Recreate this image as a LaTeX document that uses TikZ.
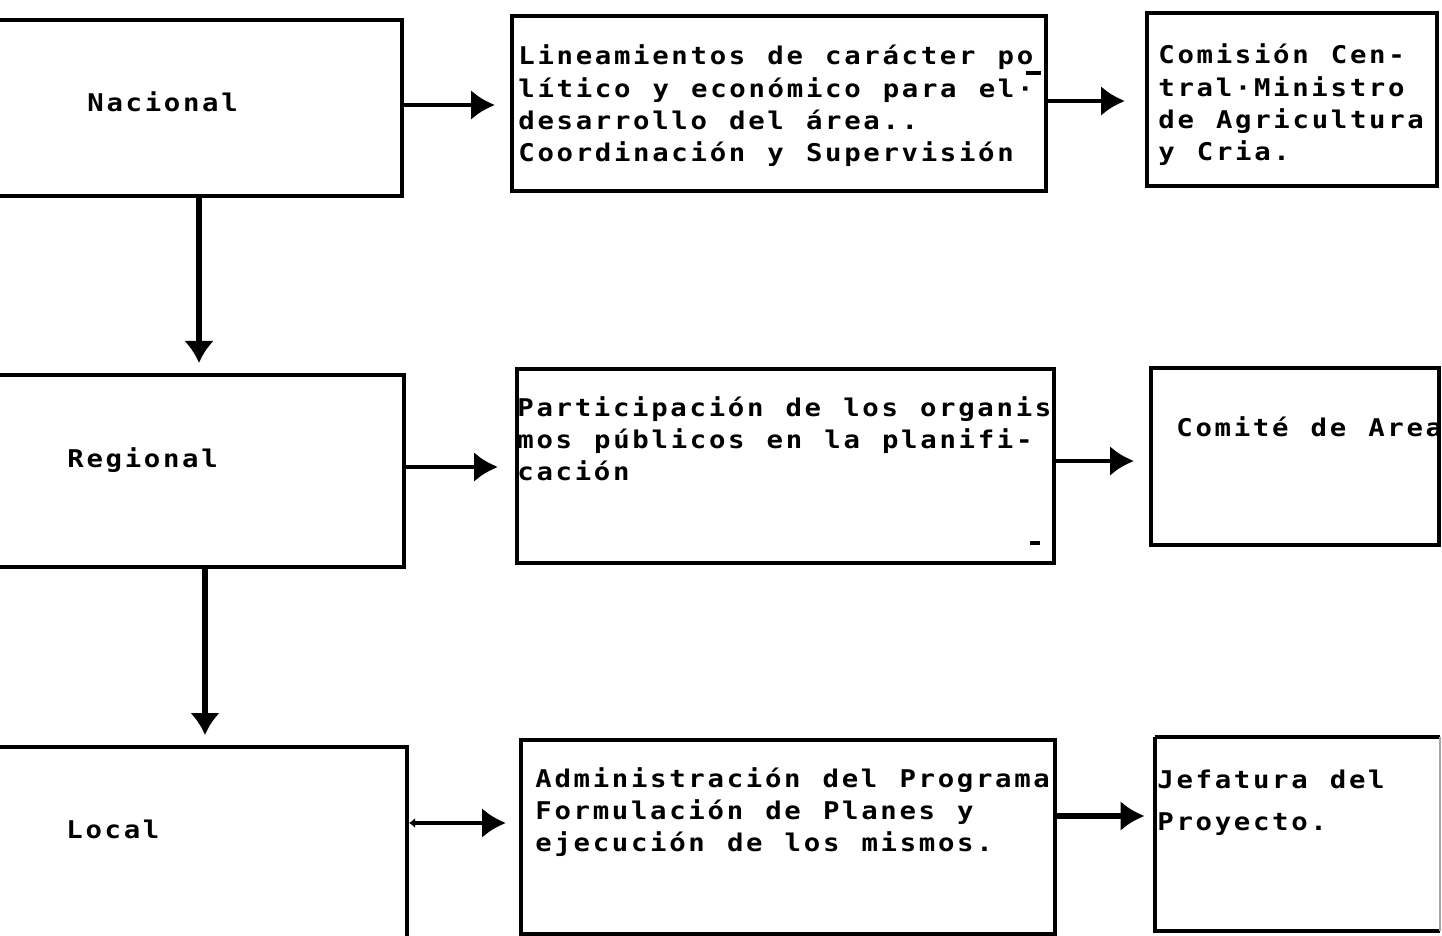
\documentclass[tikz,border=0pt]{standalone}
\usepackage{fontspec}
\newfontfamily\tw{DejaVu Sans Mono}[FakeStretch=1.12, LetterSpace=11, WordSpace=1.155]
\usetikzlibrary{arrows.meta,fit}
\begin{document}
\begin{tikzpicture}[x=0.5pt,y=-0.5pt,
  box/.style={draw, line width=2pt, inner sep=0pt},
  txt/.style={inner sep=0pt, anchor=base west, font=\tw\bfseries\fontsize{12.2}{16.1}\selectfont},
  arr/.style={line width=2.2pt, -{Latex[length=12pt,width=15pt]}},
  varr/.style={line width=3pt, -{Latex[length=11pt,width=15pt]}},
  strokeln/.style={line width=2pt}]
\clip (0,0) rectangle (1442,936);
\fill[white] (0,0) rectangle (1442,936);
% left column
\node[box, fit={(-20,20) (402,196)}] (nac) {};
\node[box, fit={(-20,375) (404,567)}] (reg) {};
\node[box, fit={(-20,747) (407,990)}] (loc) {};
% middle column
\node[box, fit={(512,16) (1046,191)}] (m1) {};
\node[box, fit={(517,369) (1054,563)}] (m2) {};
\node[box, fit={(521,740) (1055,934)}] (m3) {};
% right column
\node[box, fit={(1147,13) (1437,186)}] (r1) {};
\node[box, fit={(1151,368) (1439,545)}] (r2) {};
\node[inner sep=0pt, fit={(1155,737) (1440,931)}] (r3) {};
\draw[strokeln] (r3.north west) -- (r3.south west) -- (r3.south east);
\draw[strokeln] (r3.north west) -- (r3.north east);
\draw[line width=1pt, black!35] (r3.north east) -- (r3.south east);
% texts
\node[txt] (tnac) at (87,112) {Nacional};
\node[txt] (treg) at (67,467) {Regional};
\node[txt] (tloc) at (66,838) {Local};
\node[txt] (tm1) at (518,65) {\vtop{\hbox{Lineamientos de carácter po}\hbox{lítico y económico para el·}\hbox{desarrollo del área..}\hbox{Coordinación y Supervisión}}};
\node[txt] (tm2) at (517,416) {\vtop{\hbox{Participación de los organis}\hbox{mos públicos en la planifi-}\hbox{cación}}};
\node[txt] (tm3) at (535,787) {\vtop{\hbox{Administración del Programa}\hbox{Formulación de Planes y}\hbox{ejecución de los mismos.}}};
\node[txt] (tr1) at (1158,64) {\vtop{\hbox{Comisión Cen-}\hbox{tral·Ministro}\hbox{de Agricultura}\hbox{y Cria.}}};
\node[txt] (tr2) at (1176,437) {Comité de Area};
\node[txt] (tr3) at (1157,788) {\vtop{\baselineskip=21pt\hbox{Jefatura del}\hbox{Proyecto.}}};
% small marks
\draw[strokeln] (1026,73) -- (1041,73);
\draw[strokeln] (1030,543) -- (1040,543);
% connectors
\draw[arr, shorten >=7.5pt] (nac.east |- 0,105) -- (m1.west |- 0,105);
\draw[arr, shorten >=10pt] (m1.east |- 0,101) -- (r1.west |- 0,101);
\draw[varr, shorten >=5pt] (nac.south -| 199,0) -- (reg.north -| 199,0);
\draw[varr, shorten >=5pt] (reg.south -| 205,0) -- (loc.north -| 205,0);
\draw[arr, shorten >=8.5pt] (reg.east |- 0,467) -- (m2.west |- 0,467);
\draw[arr, shorten >=7.5pt] (m2.east |- 0,461) -- (r2.west |- 0,461);
\draw[line width=2.2pt, {Latex[length=3pt,width=5pt]}-{Latex[length=12pt,width=15pt]}, shorten >=6.5pt] (loc.east |- 0,823) -- (m3.west |- 0,823);
\draw[line width=3pt, -{Latex[length=12pt,width=15pt]}, shorten >=5pt] (m3.east |- 0,816) -- (r3.west |- 0,816);
\end{tikzpicture}
\end{document}
